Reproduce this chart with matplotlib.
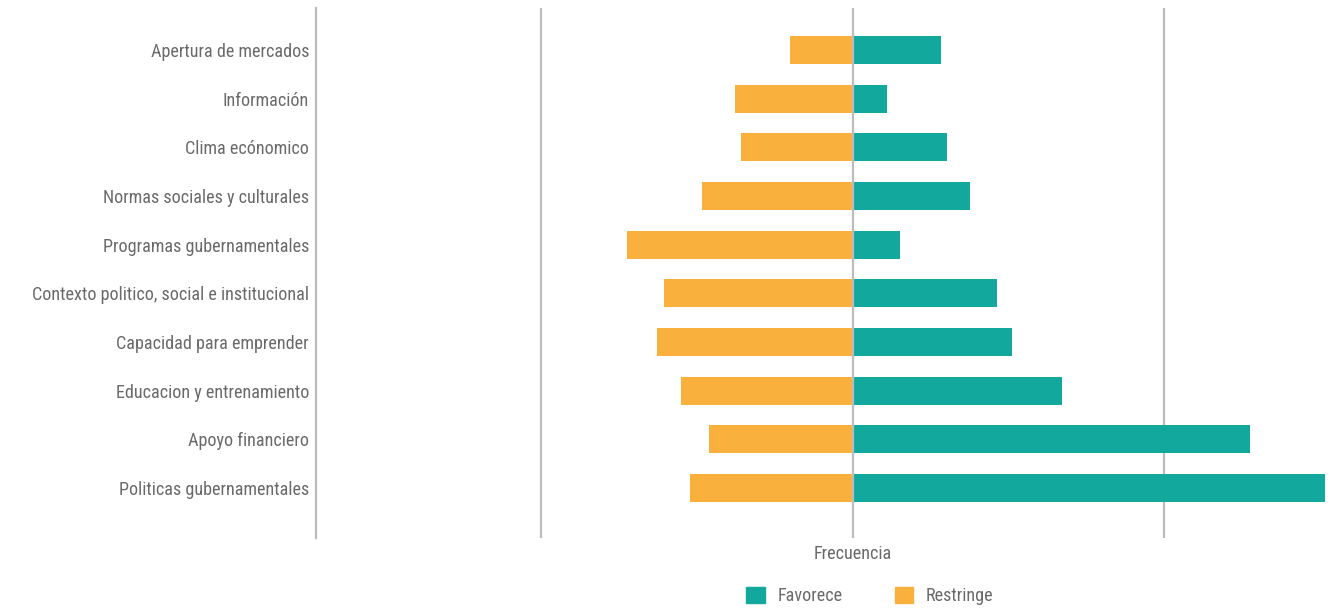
import matplotlib
matplotlib.use('Agg')
import matplotlib.pyplot as plt
from matplotlib import font_manager
from matplotlib.patches import Patch

categorias = ['Apertura de mercados', 'Información', 'Clima ecónomico',
              'Normas sociales y culturales', 'Programas gubernamentales',
              'Contexto politico, social e institucional', 'Capacidad para emprender',
              'Educacion y entrenamiento', 'Apoyo financiero', 'Politicas gubernamentales']
favorece = [5.67, 2.21, 6.08, 7.53, 3.04, 9.27, 10.23, 13.44, 25.5, 30.33]
restringe = [4.06, 7.55, 7.16, 9.66, 14.48, 12.10, 12.60, 11.01, 9.26, 10.48]

TEAL = '#13a89e'
NARANJA = '#f9b03d'
GRIS = '#bcbcbc'
TEXTO = '#6a6a6a'
TAM = 13.1

# fuente condensada si existe
nombres = {f.name for f in font_manager.fontManager.ttflist}
fuente = 'DejaVu Sans'
for fam in ['Roboto Condensed', 'Liberation Sans Narrow', 'Open Sans Condensed']:
    if fam in nombres:
        fuente = fam
        break
plt.rcParams['font.family'] = [fuente, 'DejaVu Sans']

fig = plt.figure(figsize=(13.41, 6.09), dpi=100)
ax = fig.add_axes([316 / 1341, 71 / 609, 1010 / 1341, 530 / 609])

y = list(range(len(categorias)))
ax.barh(y, favorece, height=0.575, color=TEAL, zorder=2)
ax.barh(y, [-v for v in restringe], height=0.575, color=NARANJA, zorder=2)

for x in (-20, 20):
    ax.axvline(x, color=GRIS, lw=1.6, zorder=1)
ax.axvline(0, color=GRIS, lw=1.6, zorder=3)

ax.set_xlim(-34.48, 30.4)
ax.set_ylim(10.03, -0.86)
ax.set_yticks(y)
ax.set_yticklabels(categorias, fontsize=TAM, color=TEXTO)
ax.set_xticks([])
ax.tick_params(axis='y', length=0, pad=5)

for s in ('top', 'right', 'bottom'):
    ax.spines[s].set_visible(False)
ax.spines['left'].set_color(GRIS)
ax.spines['left'].set_linewidth(1.6)

# etiqueta del eje centrada en el cero
ax.text(0, 1 - 554 / 609, 'Frecuencia', transform=ax.get_xaxis_transform().__class__(ax.transData, fig.transFigure),
        ha='center', va='center', fontsize=TAM, color=TEXTO)

handles = [Patch(color=TEAL, label='Favorece'), Patch(color=NARANJA, label='Restringe')]
fig.legend(handles=handles, loc='center', bbox_to_anchor=(870 / 1341, 1 - 596 / 609),
           ncol=2, frameon=False, fontsize=TAM, labelcolor=TEXTO,
           handlelength=1.0, handleheight=1.0, columnspacing=2.9, handletextpad=0.7)

fig.savefig('out.png', dpi=100)
